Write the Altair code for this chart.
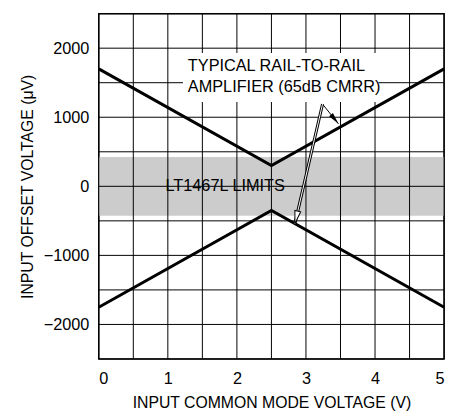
import altair as alt
import pandas as pd
import numpy as np

# ---- data ----
x_cm = [0, 2.5, 5]                       # input common mode voltage (V)
typical_upper = [1700, 300, 1700]        # typical rail-to-rail amp, upper (uV)
typical_lower = [-1750, -350, -1750]     # typical rail-to-rail amp, lower (uV)
limit_lo = [-425]                        # LT1467L limits (uV)
limit_hi = [425]
x_grid = [i * 0.5 for i in range(11)]
y_grid = [-2500 + i * 500 for i in range(11)]
x_labels = [0, 1, 2, 3, 4, 5]
y_labels = [-2000, -1000, 0, 1000, 2000]

note_lines = ["TYPICAL RAIL-TO-RAIL", "AMPLIFIER (65dB CMRR)"]
note_x = [1.29, 1.29]
note_y = [1745, 1435]
note_box_x = [1.22, 4.05]
note_box_y = [1220, 1930]
limit_label = ["LT1467L LIMITS"]
limit_label_x = [1.83]
limit_label_y = [0]
arrow_from = (3.24, 1190)
arrow_to_upper = (3.47, 905)
arrow_to_lower = (2.84, -540)

W = 350
H = 350
FONT = "Liberation Sans"
FS_TICK = 16.5
FS_TITLE = 16
FS_NOTE = 16.5

xs = alt.Scale(domain=[0, 5], nice=False, zero=False)
ys = alt.Scale(domain=[-2500, 2500], nice=False, zero=False)

px_per_x = W / 5.0
px_per_y = H / 5000.0


def head_angle(p0, p1):
    dx = (p1[0] - p0[0]) * px_per_x
    dy = -(p1[1] - p0[1]) * px_per_y
    return float(np.degrees(np.arctan2(dx, -dy)) % 360)


xaxis = alt.Axis(values=x_labels, format="d", title="INPUT COMMON MODE VOLTAGE (V)",
                 titlePadding=8, labelPadding=12, labelOverlap=False, grid=False)
yaxis = alt.Axis(values=y_labels, format="d", title="INPUT OFFSET VOLTAGE (\u03bcV)",
                 titlePadding=8, labelPadding=10, labelOverlap=False, grid=False)


def X(f):
    return alt.X(f, scale=xs, axis=xaxis)


def Y(f):
    return alt.Y(f, scale=ys, axis=yaxis)


band_df = pd.DataFrame({"x": [0], "x2": [5], "y": limit_lo, "y2": limit_hi})
band = alt.Chart(band_df).mark_rect(color="#cccccc", opacity=1).encode(
    x=X("x:Q"), x2="x2:Q", y=Y("y:Q"), y2="y2:Q")

vg_df = pd.DataFrame({"x": x_grid})
vgrid = alt.Chart(vg_df).mark_rule(color="black", strokeWidth=1).encode(x=X("x:Q"))
hg_df = pd.DataFrame({"y": y_grid})
hgrid = alt.Chart(hg_df).mark_rule(color="black", strokeWidth=1).encode(y=Y("y:Q"))

box_df = pd.DataFrame({"x": [note_box_x[0]], "x2": [note_box_x[1]],
                       "y": [note_box_y[0]], "y2": [note_box_y[1]]})
box = alt.Chart(box_df).mark_rect(color="white", opacity=1).encode(
    x=X("x:Q"), x2="x2:Q", y=Y("y:Q"), y2="y2:Q")

note_df = pd.DataFrame({"t": note_lines, "x": note_x, "y": note_y})
note = alt.Chart(note_df).mark_text(align="left", baseline="middle", font=FONT,
                                    fontSize=FS_NOTE, color="black").encode(
    x=X("x:Q"), y=Y("y:Q"), text="t:N")

lim_df = pd.DataFrame({"t": limit_label, "x": limit_label_x, "y": limit_label_y})
lim = alt.Chart(lim_df).mark_text(align="center", baseline="middle", font=FONT,
                                  fontSize=FS_NOTE, color="black").encode(
    x=X("x:Q"), y=Y("y:Q"), text="t:N")

lines_df = pd.DataFrame({"x": x_cm * 2, "y": typical_upper + typical_lower,
                         "s": ["upper"] * 3 + ["lower"] * 3})
lines = alt.Chart(lines_df).mark_line(color="black", strokeWidth=3).encode(
    x=X("x:Q"), y=Y("y:Q"), detail="s:N")

arr_df = pd.DataFrame({"x": [arrow_from[0]] * 2, "y": [arrow_from[1]] * 2,
                       "x2": [arrow_to_upper[0], arrow_to_lower[0]],
                       "y2": [arrow_to_upper[1], arrow_to_lower[1]],
                       "k": ["a", "b"],
                       "ang": [head_angle(arrow_from, arrow_to_upper),
                               head_angle(arrow_from, arrow_to_lower)]})
a_df = arr_df[arr_df.k == "a"]
b_df = arr_df[arr_df.k == "b"]
shaft1 = alt.Chart(a_df).mark_rule(color="black", strokeWidth=1).encode(
    x=X("x:Q"), y=Y("y:Q"), x2="x2:Q", y2="y2:Q")
shaft2o = alt.Chart(b_df).mark_rule(color="black", strokeWidth=3).encode(
    x=X("x:Q"), y=Y("y:Q"), x2="x2:Q", y2="y2:Q")
shaft2i = alt.Chart(b_df).mark_rule(color="white", strokeWidth=1).encode(
    x=X("x:Q"), y=Y("y:Q"), x2="x2:Q", y2="y2:Q")

head1 = alt.Chart(a_df).mark_point(
    shape="M0,0 L-0.5,2.4 L0.5,2.4 Z", size=100, filled=True, color="black", opacity=1).encode(
    x=X("x2:Q"), y=Y("y2:Q"), angle=alt.Angle("ang:Q", scale=None))
head2 = alt.Chart(b_df).mark_point(
    shape="M0,0 L-0.6,2.6 L0.6,2.6 Z", size=100, filled=True, fill="white",
    stroke="black", strokeWidth=1, opacity=1).encode(
    x=X("x2:Q"), y=Y("y2:Q"), angle=alt.Angle("ang:Q", scale=None))

chart = alt.layer(band, vgrid, hgrid, box, note, lim, lines, shaft1, shaft2o, shaft2i,
                  head1, head2).properties(
    width=W, height=H,
    autosize=alt.AutoSizeParams(type="none"),
    padding={"left": 92, "top": 3, "right": 7, "bottom": 50},
).configure_view(stroke="black", strokeWidth=1.5).configure_axis(
    domain=False, ticks=False, tickSize=0,
    labelFont=FONT, labelFontSize=FS_TICK, labelColor="black",
    titleFont=FONT, titleFontSize=FS_TITLE, titleFontWeight="normal", titleColor="black",
)

chart.save("out.html", embed_options={"renderer": "svg", "actions": False})
